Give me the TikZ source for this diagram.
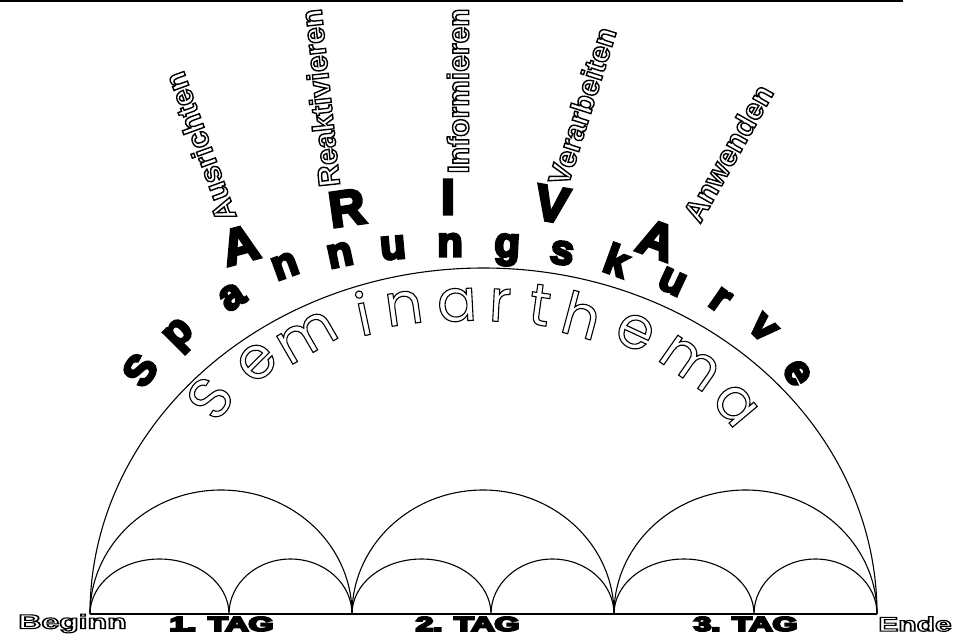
\documentclass[tikz,border=0pt]{standalone}
\usepackage{fontspec}
\newfontfamily\blkfont{Liberation Sans Bold}
\newfontfamily\semfont{Poppins}
\newfontfamily\labfont{Liberation Sans Bold}
\newcommand\outl[2][1.4]{\special{pdf:literal direct 1 Tr #1 w}#2\special{pdf:literal direct 0 Tr}}
\newcommand\heavy[2][2.6]{\special{pdf:literal direct 2 Tr #1 w}#2\special{pdf:literal direct 0 Tr}}
\newcommand\wide[1]{\scalebox{1.6}[1]{#1}}
\tikzset{
  kurve/.style={inner sep=0pt,font=\blkfont\fontsize{42}{42}\selectfont},
  ariva/.style={inner sep=0pt,font=\blkfont\fontsize{50}{50}\selectfont},
  sem/.style={inner sep=0pt,font=\semfont\fontsize{59}{59}\selectfont},
  phase/.style={inner sep=0pt,font=\labfont\fontsize{30}{30}\selectfont},
  day/.style={inner sep=0pt,font=\labfont\fontsize{20}{20}\selectfont},
  arcline/.style={line width=1.1pt},
}
\begin{document}
\begin{tikzpicture}[x=1pt,y=-1pt]
\useasboundingbox (0,0) rectangle (967,635);
% top rule
\draw[line width=2.4pt] (0,1.2) -- (903,1.2);
% named points on the base line
\coordinate (b0) at (90,614);
\coordinate (b1) at (229,614);
\coordinate (b2) at (352,614);
\coordinate (b3) at (491,614);
\coordinate (b4) at (614,614);
\coordinate (b5) at (754,614);
\coordinate (b6) at (877,614);
% big arc
\draw[arcline] (b0) arc[start angle=180,end angle=360,x radius=393.5,y radius=346];
% middle arcs
\draw[arcline] (b0) arc[start angle=180,end angle=360,x radius=131,y radius=124];
\draw[arcline] (b2) arc[start angle=180,end angle=360,x radius=131,y radius=124];
\draw[arcline] (b4) arc[start angle=180,end angle=360,x radius=131.5,y radius=124];
% small arcs
\draw[arcline] (b0) arc[start angle=180,end angle=360,x radius=69.5,y radius=55];
\draw[arcline] (b1) arc[start angle=180,end angle=360,x radius=61.5,y radius=55];
\draw[arcline] (b2) arc[start angle=180,end angle=360,x radius=69.5,y radius=55];
\draw[arcline] (b3) arc[start angle=180,end angle=360,x radius=61.5,y radius=55];
\draw[arcline] (b4) arc[start angle=180,end angle=360,x radius=70,y radius=55];
\draw[arcline] (b5) arc[start angle=180,end angle=360,x radius=61.5,y radius=55];
% base line
\draw[line width=2pt] (b0) -- (b6);
% bottom labels
\node[day] (beg) at (72.5,623.5) {\wide{\outl[1.1]{Beginn}}};
\node[day] (t1) at (221.5,624) {\wide{\heavy[1.8]{1. TAG}}};
\node[day] (t2) at (467.5,624) {\wide{\heavy[1.8]{2. TAG}}};
\node[day] (t3) at (745.5,624) {\wide{\heavy[1.8]{3. TAG}}};
\node[day] (end) at (915,624) {\scalebox{1.5}[1]{\outl[1.1]{Ende}}};
% Spannungskurve
\node[kurve,rotate=55] (k1) at (140,370) {\heavy{S}};
\node[kurve,rotate=45] (k2) at (181,336) {\heavy{p}};
\node[kurve,rotate=33] (k3) at (232,297) {\heavy{a}};
\node[kurve,rotate=20] (k4) at (285,266) {\heavy{n}};
\node[kurve,rotate=12] (k5) at (340,255) {\heavy{n}};
\node[kurve,rotate=5] (k6) at (393,248) {\heavy{u}};
\node[kurve,rotate=0] (k7) at (450,245) {\heavy{n}};
\node[kurve,rotate=-3] (k8) at (507,250) {\heavy{g}};
\node[kurve,rotate=-8] (k9) at (562,253) {\heavy{s}};
\node[kurve,rotate=-20] (k10) at (617,260) {\heavy{k}};
\node[kurve,rotate=-25] (k11) at (672,282) {\heavy{u}};
\node[kurve,rotate=-35] (k12) at (720,300) {\heavy{r}};
\node[kurve,rotate=-45] (k13) at (763,328) {\heavy{v}};
\node[kurve,rotate=-60] (k14) at (797,373) {\heavy{e}};
% ARIVA
\node[ariva,rotate=15] (a1) at (240,245) {\heavy[3]{A}};
\node[ariva,rotate=8] (a2) at (347,208) {\heavy[3]{R}};
\node[ariva] (a3) at (448,197) {\heavy[3]{I}};
\node[ariva,rotate=-10] (a4) at (552,204) {\heavy[3]{V}};
\node[ariva,rotate=-20] (a5) at (657,240) {\heavy[3]{A}};
% phases
\node[phase,rotate=110] (p1) at (200,147) {\outl{Ausrichten}};
\node[phase,rotate=96] (p2) at (320,98) {\outl{Reaktivieren}};
\node[phase,rotate=90] (p3) at (458,91) {\outl{Informieren}};
\node[phase,rotate=72.5] (p4) at (582,106) {\outl{Verarbeiten}};
\node[phase,rotate=60.6] (p5) at (728,153) {\outl{Anwenden}};
% Seminarthema
\node[sem,rotate=55] (s1) at (210,398) {\outl[1.1]{S}};
\node[sem,rotate=45] (s2) at (257,362) {\outl[1.1]{e}};
\node[sem,rotate=30] (s3) at (307,337) {\outl[1.1]{m}};
\node[sem,rotate=12] (s4) at (363,313) {\outl[1.1]{i}};
\node[sem,rotate=8] (s5) at (404,308) {\outl[1.1]{n}};
\node[sem,rotate=3] (s6) at (457,305) {\outl[1.1]{a}};
\node[sem,rotate=-3] (s7) at (500,305) {\outl[1.1]{r}};
\node[sem,rotate=-8] (s8) at (540,305) {\outl[1.1]{t}};
\node[sem,rotate=-15] (s9) at (582,315) {\outl[1.1]{h}};
\node[sem,rotate=-25] (s10) at (635,332) {\outl[1.1]{e}};
\node[sem,rotate=-35] (s11) at (690,363) {\outl[1.1]{m}};
\node[sem,rotate=-50] (s12) at (735,405) {\outl[1.1]{a}};
\end{tikzpicture}
\end{document}
